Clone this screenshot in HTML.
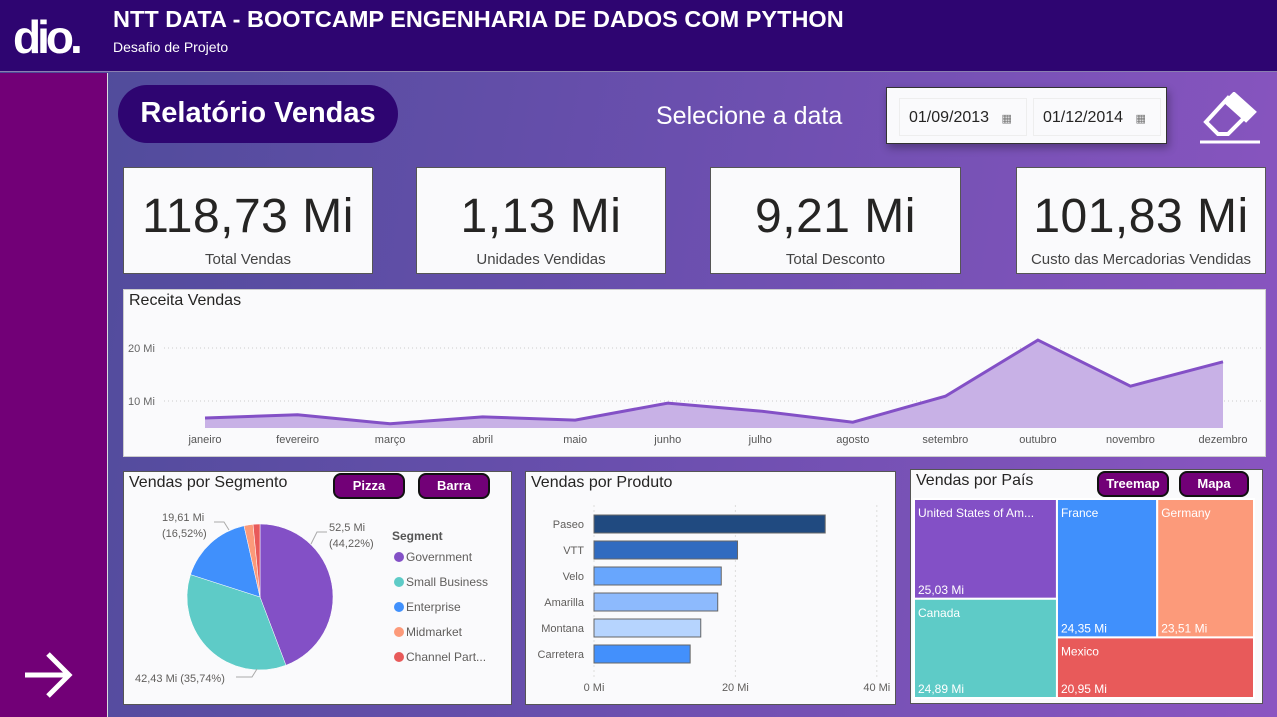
<!DOCTYPE html>
<html><head><meta charset="utf-8">
<style>
*{box-sizing:border-box;margin:0;padding:0}
body{width:1277px;height:717px;overflow:hidden;font-family:"Liberation Sans","DejaVu Sans",sans-serif;position:relative;background:linear-gradient(100deg,#4c4b98 0%,#6a4fae 50%,#8b55c1 100%)}
.abs{position:absolute}
.card{position:absolute;background:#fafafc;border:1px solid #555}
.kpi .v{position:absolute;left:0;right:0;top:21px;text-align:center;font-size:48px;color:#252423;letter-spacing:0.5px}
.kpi .l{position:absolute;left:0;right:0;top:83px;text-align:center;font-size:15px;color:#444}
.ctitle{position:absolute;left:5px;top:2px;font-size:16px;color:#252423}
.btn{position:absolute;background:#720077;border:2px solid #111;border-radius:8px;color:#fff;font-weight:bold;font-size:13px;text-align:center;line-height:22px;height:26px}
svg text{font-family:"Liberation Sans",sans-serif}
</style></head><body>
<div class="abs" style="left:0;top:0;width:1277px;height:72px;background:#2e0571;border-bottom:1px solid #8a7fb0"></div>
<div class="abs" style="left:13px;top:14px;color:#fff;font-size:46px;font-weight:bold;letter-spacing:-4px;line-height:46px">dio.</div>
<div class="abs" style="left:113px;top:6px;color:#fff;font-size:23.5px;font-weight:bold">NTT DATA - BOOTCAMP ENGENHARIA DE DADOS COM PYTHON</div>
<div class="abs" style="left:113px;top:39px;color:#fff;font-size:14px">Desafio de Projeto</div>
<div class="abs" style="left:0;top:73px;width:108px;height:644px;background:#720077;border-right:1px solid #ddd"></div>
<svg class="abs" style="left:22px;top:650px" width="52" height="50"><path d="M3 25H47M26 4L47 25L26 46" stroke="#fff" stroke-width="5" fill="none"/></svg>
<div class="abs" style="left:118px;top:85px;width:280px;height:58px;background:#2e0571;border-radius:29px;color:#fff;font-weight:bold;font-size:29px;text-align:center;line-height:56px">Relatório Vendas</div>
<div class="abs" style="left:656px;top:102px;color:#fff;font-size:25px">Selecione a data</div>
<div class="abs" style="left:886px;top:87px;width:281px;height:57px;background:#fafafc;border:1px solid #333;box-shadow:2px 4px 8px rgba(0,0,0,.3)">
 <div class="abs" style="left:12px;top:10px;width:128px;height:38px;border:1px solid #eee;font-size:16px;color:#252423;padding:10px 0 0 9px">01/09/2013 <span style="font-size:11px;color:#777;margin-left:8px">▦</span></div>
 <div class="abs" style="left:146px;top:10px;width:128px;height:38px;border:1px solid #eee;font-size:16px;color:#252423;padding:10px 0 0 9px">01/12/2014 <span style="font-size:11px;color:#777;margin-left:8px">▦</span></div>
</div>
<svg class="abs" style="left:1198px;top:92px" width="64" height="52"><g fill="none" stroke="#fff" stroke-width="4"><path d="M30 6L48 24L30 42L20 42L8 30Z"/><path d="M36 2L56 20L48 28L28 10Z" fill="#fff"/></g><path d="M2 50H62" stroke="#fff" stroke-width="3"/></svg>

<div class="card kpi" style="left:123px;top:167px;width:250px;height:107px"><div class="v">118,73 Mi</div><div class="l">Total Vendas</div></div>
<div class="card kpi" style="left:416px;top:167px;width:250px;height:107px"><div class="v">1,13 Mi</div><div class="l">Unidades Vendidas</div></div>
<div class="card kpi" style="left:710px;top:167px;width:251px;height:107px"><div class="v">9,21 Mi</div><div class="l">Total Desconto</div></div>
<div class="card kpi" style="left:1016px;top:167px;width:250px;height:107px"><div class="v">101,83 Mi</div><div class="l">Custo das Mercadorias Vendidas</div></div>

<div class="card" style="left:123px;top:289px;width:1143px;height:168px;border-color:#ccc">
 <div class="ctitle">Receita Vendas</div>
 <svg id="line" class="abs" style="left:0;top:0" width="1143" height="168"></svg>
</div>

<div class="card" style="left:123px;top:471px;width:389px;height:234px">
 <div class="ctitle">Vendas por Segmento</div>
 <div class="btn" style="left:209px;top:1px;width:72px">Pizza</div>
 <div class="btn" style="left:294px;top:1px;width:72px">Barra</div>
 <svg id="pie" class="abs" style="left:0;top:0" width="389" height="234"></svg>
</div>

<div class="card" style="left:525px;top:471px;width:371px;height:234px">
 <div class="ctitle">Vendas por Produto</div>
 <svg id="bar" class="abs" style="left:0;top:0" width="371" height="234"></svg>
</div>

<div class="card" style="left:910px;top:469px;width:353px;height:235px">
 <div class="ctitle">Vendas por País</div>
 <div class="btn" style="left:186px;top:1px;width:72px">Treemap</div>
 <div class="btn" style="left:268px;top:1px;width:70px">Mapa</div>
 <svg id="tree" class="abs" style="left:0;top:0" width="353" height="235"></svg>
</div>

<script>
const NS='http://www.w3.org/2000/svg';
function mk(p,t,a,txt){const e=document.createElementNS(NS,t);for(const k in a)e.setAttribute(k,a[k]);if(txt!==undefined)e.textContent=txt;p.appendChild(e);return e;}

// Line chart data
const months=['janeiro','fevereiro','março','abril','maio','junho','julho','agosto','setembro','outubro','novembro','dezembro'];
const receita=[6.8,7.4,5.7,7.0,6.4,9.6,8.1,6.0,10.9,21.5,12.8,17.4];
const yTicks=[10,20];
const yTickLabels=['10 Mi','20 Mi'];
(function(){
 const s=document.getElementById('line');
 const x=i=>81+i*(1018/11), y=v=>164-v*5.3, base=138;
 yTicks.forEach((t,i)=>{
  const g=mk(s,'line',{x1:40,x2:1140,y1:y(t),y2:y(t),stroke:'#ccc','stroke-dasharray':'1,3'});
  
  const l=mk(s,'text',{x:4,y:y(t)+4,'font-size':11,fill:'#666'},yTickLabels[i]);
  
 });
 let pts=receita.map((v,i)=>x(i)+','+y(v)).join(' ');
 const a=mk(s,'polygon',{points:x(0)+','+base+' '+pts+' '+x(11)+','+base,fill:'#c8b1e6'});
 
 const l=mk(s,'polyline',{points:pts,fill:'none',stroke:'#8350c6','stroke-width':3});
 
 months.forEach((m,i)=>{const t=mk(s,'text',{x:x(i),y:153,'font-size':11,fill:'#555','text-anchor':'middle'},m);
  });
})();

// Pie data
const segments=['Government','Small Business','Enterprise','Midmarket','Channel Part...'];
const segPct=[44.22,35.74,16.52,2.0,1.52];
const segColors=['#8350c6','#5ecbc7','#4090fc','#fc9a7a','#e85a5a'];
(function(){
 const s=document.getElementById('pie');const cx=136,cy=125,r=73;let a0=0;
 segPct.forEach((p,i)=>{const a1=a0+p/100*2*Math.PI;
  const x0=cx+r*Math.sin(a0),y0=cy-r*Math.cos(a0),x1=cx+r*Math.sin(a1),y1=cy-r*Math.cos(a1);
  const e=mk(s,'path',{d:`M${cx},${cy}L${x0},${y0}A${r},${r} 0 ${p>50?1:0} 1 ${x1},${y1}Z`,fill:segColors[i],stroke:'#fff','stroke-width':0.5});
  a0=a1;});
 const lab=[[205,59,'52,5 Mi'],[205,75,'(44,22%)'],[38,49,'19,61 Mi'],[38,65,'(16,52%)'],[11,210,'42,43 Mi (35,74%)']];
 lab.forEach(d=>{const t=mk(s,'text',{x:d[0],y:d[1],'font-size':11,fill:'#605e5c'},d[2]);});
 mk(s,'polyline',{points:'187,72 193,60 203,60',fill:'none',stroke:'#aaa'});
 mk(s,'polyline',{points:'105,58 100,50 90,50',fill:'none',stroke:'#aaa'});
 mk(s,'polyline',{points:'133,197 128,205 112,205',fill:'none',stroke:'#aaa'});
 const h=mk(s,'text',{x:268,y:68,'font-size':12,'font-weight':'bold',fill:'#555'},'Segment');
 segments.forEach((n,i)=>{const y=85+i*25;mk(s,'circle',{cx:275,cy:y,r:5,fill:segColors[i]});
  const t=mk(s,'text',{x:282,y:y+4,'font-size':12,fill:'#605e5c'},n);});
})();

// Bar data
const produtos=['Paseo','VTT','Velo','Amarilla','Montana','Carretera'];
const vendasProd=[32.7,20.3,18.0,17.5,15.1,13.6];
const barColors=['#204a80','#316bc0','#68a6fd','#8dbafd','#b6d4fe','#4390fc'];
const xTicks=[0,20,40];
const xTickLabels=['0 Mi','20 Mi','40 Mi'];
(function(){
 const s=document.getElementById('bar');const x=v=>68+v*7.07;
 xTicks.forEach((t,i)=>{mk(s,'line',{x1:x(t),x2:x(t),y1:33,y2:205,stroke:'#ddd','stroke-dasharray':'2,3'});
  const l=mk(s,'text',{x:x(t),y:219,'font-size':11,fill:'#605e5c','text-anchor':'middle'},xTickLabels[i]);});
 produtos.forEach((p,i)=>{const y=43+i*26;
  const b=mk(s,'rect',{x:x(0),y:y,width:x(vendasProd[i])-x(0),height:18,fill:barColors[i],stroke:'#666','stroke-width':1});
  
  const t=mk(s,'text',{x:58,y:y+13,'font-size':11,fill:'#605e5c','text-anchor':'end'},p);});
})();

// Treemap data
const paises=['United States of Am...','France','Germany','Canada','Mexico'];
const vendasPais=[25.03,24.35,23.51,24.89,20.95];
const paisLabels=['25,03 Mi','24,35 Mi','23,51 Mi','24,89 Mi','20,95 Mi'];
const paisColors=['#8350c6','#4090fc','#fc9a7a','#5ecbc7','#e85a5a'];
(function(){
 const s=document.getElementById('tree');
 const X0=3,Y0=29,W=340,H=199;
 const tot=vendasPais.reduce((a,b)=>a+b,0);
 const c1=(vendasPais[0]+vendasPais[3])/tot*W;
 const usH=vendasPais[0]/(vendasPais[0]+vendasPais[3])*H;
 const rest=W-c1;const restTot=vendasPais[1]+vendasPais[2]+vendasPais[4];
 const topH=(vendasPais[1]+vendasPais[2])/restTot*H;
 const frW=vendasPais[1]/(vendasPais[1]+vendasPais[2])*rest;
 const rects=[[X0,Y0,c1,usH],[X0+c1,Y0,frW,topH],[X0+c1+frW,Y0,rest-frW,topH],[X0,Y0+usH,c1,H-usH],[X0+c1,Y0+topH,rest,H-topH]];
 rects.forEach((r,i)=>{
  const e=mk(s,'rect',{x:r[0],y:r[1],width:r[2],height:r[3],fill:paisColors[i],stroke:'#fff','stroke-width':2});
  
  const t=mk(s,'text',{x:r[0]+4,y:r[1]+18,'font-size':12,fill:'#fff'},paises[i]);
  const v=mk(s,'text',{x:r[0]+4,y:r[1]+r[3]-5,'font-size':12,fill:'#fff'},paisLabels[i]);
 });
})();
</script>
</body></html>
